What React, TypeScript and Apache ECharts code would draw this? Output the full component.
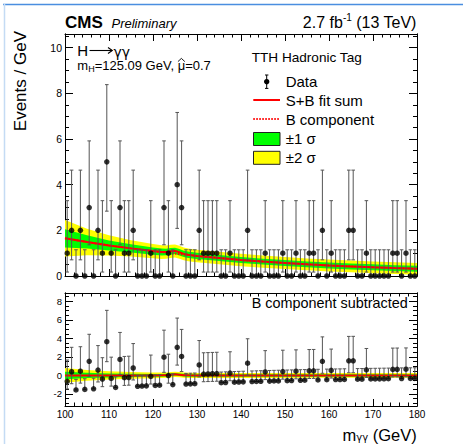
import React, { useEffect, useRef } from "react";
import * as echarts from "echarts";

const FONT = "'Liberation Sans', Arial, Helvetica, sans-serif";
const GREEK = "'DejaVu Sans', 'Liberation Sans', sans-serif";

// ---------------- data ----------------
const massMin = 100;
const massMax = 180;
const binWidth = 1;
// events per 1 GeV bin, 100-180 GeV
const counts = [
  1, 2, 0, 2, 0, 3, 0, 2, 1, 5,
  1, 0, 3, 1, 1, 2, 0, 0, 0, 1,
  0, 0, 3, 1, 0, 4, 3, 0, 0, 0,
  2, 1, 1, 1, 1, 0, 0, 1, 0, 0,
  0, 2, 0, 0, 0, 1, 0, 0, 0, 1,
  0, 0, 1, 0, 0, 1, 1, 0, 2, 0,
  1, 0, 0, 0, 2, 2, 0, 0, 1, 0,
  0, 0, 0, 0, 1, 1, 0, 1, 0, 0,
];
// 68% Poisson intervals for n = 0..5 (lower / upper edges)
const poissonLo = [0, 0.173, 0.708, 1.367, 2.086, 2.84];
const poissonHi = [1.148, 3.3, 4.638, 5.918, 7.163, 8.382];

// fit curves
const fitMass = [100, 105, 110, 115, 120, 122, 123, 124, 125, 126, 127, 128, 130, 135, 140, 145, 150, 155, 160, 165, 170, 175, 180];
const fitB = [1.65, 1.49, 1.34, 1.21, 1.09, 1.04, 1.02, 1.0, 0.98, 0.96, 0.94, 0.92, 0.88, 0.79, 0.7, 0.63, 0.57, 0.51, 0.46, 0.42, 0.38, 0.345, 0.315];
const fitS = [0, 0, 0, 0, 0, 0.01, 0.03, 0.08, 0.12, 0.08, 0.03, 0.01, 0, 0, 0, 0, 0, 0, 0, 0, 0, 0, 0];
const band1 = [0.4, 0.29, 0.22, 0.18, 0.155, 0.15, 0.145, 0.145, 0.14, 0.14, 0.14, 0.14, 0.14, 0.135, 0.135, 0.13, 0.13, 0.13, 0.13, 0.13, 0.13, 0.13, 0.13];
const band2 = [0.8, 0.58, 0.44, 0.36, 0.31, 0.3, 0.29, 0.29, 0.285, 0.28, 0.28, 0.28, 0.275, 0.27, 0.27, 0.265, 0.265, 0.26, 0.26, 0.26, 0.26, 0.255, 0.255];

// axes
const yTicksTop = [0, 2, 4, 6, 8, 10];
const yTicksBottom = [-2, 0, 2, 4, 6, 8];
const topRange = [0, 10.6];
const bottomRange = [-3.3, 8.9];

// ---------------- helpers ----------------
function interp(xs: number[], ys: number[], x: number) {
  for (let i = 0; i < xs.length - 1; i++) {
    if (x >= xs[i] && x <= xs[i + 1]) {
      const t = (x - xs[i]) / (xs[i + 1] - xs[i]);
      return ys[i] + t * (ys[i + 1] - ys[i]);
    }
  }
  return ys[ys.length - 1];
}

function minorList(lo: number, hi: number, step: number, majors: number[]) {
  const out: number[] = [];
  for (let v = Math.ceil(lo / step) * step; v <= hi + 1e-9; v += step) {
    const r = Math.round(v * 1000) / 1000;
    if (!majors.includes(r)) out.push(r);
  }
  return out;
}

let _ctx: CanvasRenderingContext2D | null = null;
function tw(t: string, size: number, weight = "normal", style = "normal", family = FONT) {
  if (!_ctx) _ctx = document.createElement("canvas").getContext("2d");
  if (!_ctx) return t.length * size * 0.55;
  _ctx.font = `${style} ${weight} ${size}px ${family}`;
  return _ctx.measureText(t).width;
}

type Piece = { t: string; size: number; dy?: number; weight?: string; style?: string; family?: string };
function pieces(x: number, y: number, ps: Piece[], align: "left" | "right" = "left") {
  const widths = ps.map((p) => tw(p.t, p.size, p.weight, p.style, p.family || FONT));
  const total = widths.reduce((a, b) => a + b, 0);
  let cx = align === "right" ? x - total : x;
  const els: any[] = [];
  const starts: number[] = [];
  ps.forEach((p, i) => {
    starts.push(cx);
    els.push({
      type: "text",
      x: cx,
      y: y + (p.dy || 0),
      style: {
        text: p.t,
        fontSize: p.size,
        fontFamily: p.family || FONT,
        fontWeight: p.weight || "normal",
        fontStyle: p.style || "normal",
        fill: "#000",
        align: "left",
        verticalAlign: "middle",
      },
    });
    cx += widths[i];
  });
  return { els, starts, widths };
}

const binCenters = counts.map((_, i) => massMin + (i + 0.5) * binWidth);
const bAtBin = binCenters.map((m) => interp(fitMass, fitB, m));

const upperPoints = binCenters.map((m, i) => [m, counts[i]]);
const upperErr = binCenters.map((m, i) => [m, poissonLo[counts[i]], poissonHi[counts[i]]]);
const lowerPoints = binCenters.map((m, i) => [m, counts[i] - bAtBin[i]]);
const lowerErr = binCenters.map((m, i) => [m, poissonLo[counts[i]] - bAtBin[i], poissonHi[counts[i]] - bAtBin[i]]);
const sbLine = fitMass.map((m, i) => [m, fitB[i] + fitS[i]]);
const bLine = fitMass.map((m, i) => [m, fitB[i]]);
const sLine = fitMass.map((m, i) => [m, fitS[i]]);
const sbCenter = fitMass.map((_, i) => fitB[i] + fitS[i]);

const RED = "#ff0000";
const GREEN = "#00ff00";
const YELLOW = "#ffff00";
const ERR = "#555555";

function bandSeries(xi: number, yi: number, center: number[], half: number[], color: string, z: number) {
  return {
    type: "custom",
    xAxisIndex: xi,
    yAxisIndex: yi,
    silent: true,
    clip: true,
    z,
    data: [[fitMass[0], center[0]]],
    renderItem: (_p: any, api: any) => {
      const pts: number[][] = [];
      for (let i = 0; i < fitMass.length; i++) pts.push(api.coord([fitMass[i], center[i] + half[i]]));
      for (let i = fitMass.length - 1; i >= 0; i--) pts.push(api.coord([fitMass[i], center[i] - half[i]]));
      return { type: "polygon", shape: { points: pts }, style: { fill: color } };
    },
  };
}

function errSeries(xi: number, yi: number, data: number[][]) {
  return {
    type: "custom",
    xAxisIndex: xi,
    yAxisIndex: yi,
    silent: true,
    clip: false,
    z: 5,
    data,
    renderItem: (_p: any, api: any) => {
      const x = api.value(0);
      const a = api.coord([x, api.value(1)]);
      const b = api.coord([x, api.value(2)]);
      const st = { stroke: ERR, lineWidth: 1 };
      const c = 1.8;
      return {
        type: "group",
        children: [
          { type: "line", shape: { x1: a[0], y1: a[1], x2: b[0], y2: b[1] }, style: st },
          { type: "line", shape: { x1: a[0] - c, y1: a[1], x2: a[0] + c, y2: a[1] }, style: st },
          { type: "line", shape: { x1: b[0] - c, y1: b[1], x2: b[0] + c, y2: b[1] }, style: st },
        ],
      };
    },
  };
}

function pointSeries(xi: number, yi: number, data: number[][]) {
  return {
    type: "scatter",
    xAxisIndex: xi,
    yAxisIndex: yi,
    silent: true,
    clip: false,
    z: 6,
    symbol: "circle",
    symbolSize: 5.5,
    itemStyle: { color: "#000" },
    data,
  };
}

const AX_LINE = { show: true, onZero: false, lineStyle: { color: "#000", width: 1 } };

function xAx(gridIndex: number, position: string, label: boolean, majorLen: number, minorLen: number) {
  return {
    type: "value",
    gridIndex,
    position,
    min: massMin,
    max: massMax,
    interval: 10,
    axisLine: AX_LINE,
    axisTick: { show: true, inside: true, length: majorLen, lineStyle: { color: "#000", width: 1 } },
    minorTick: { show: true, splitNumber: 5, length: minorLen, lineStyle: { color: "#000", width: 1 } },
    axisLabel: label
      ? { show: true, fontSize: 10, color: "#000", fontFamily: FONT, margin: 3 }
      : { show: false },
    splitLine: { show: false },
    minorSplitLine: { show: false },
  };
}

function yAx(gridIndex: number, position: string, range: number[], ticks: number[], len: number, label: boolean, labelSize: number) {
  return {
    type: "value",
    gridIndex,
    position,
    min: range[0],
    max: range[1],
    axisLine: AX_LINE,
    axisTick: { show: true, inside: true, length: len, customValues: ticks, lineStyle: { color: "#000", width: 1 } },
    axisLabel: label
      ? { show: true, customValues: ticks, fontSize: labelSize, color: "#000", fontFamily: FONT, margin: 3 }
      : { show: false },
    splitLine: { show: false },
    minorTick: { show: false },
  };
}

function buildGraphic() {
  const g: any[] = [];
  // page frame lines
  g.push({ type: "line", shape: { x1: 3, y1: 4.5, x2: 463, y2: 4.5 }, style: { stroke: "#4a8ee0", lineWidth: 1.5 } });
  g.push({ type: "line", shape: { x1: 4.5, y1: 4, x2: 4.5, y2: 444 }, style: { stroke: "#c4dbf4", lineWidth: 1.5 } });

  // header
  g.push(...pieces(65, 22.7, [{ t: "CMS", size: 17, weight: "bold" }]).els);
  g.push(...pieces(111.5, 23.6, [{ t: "Preliminary", size: 13, style: "italic" }]).els);
  g.push(
    ...pieces(
      416.7,
      22.7,
      [
        { t: "2.7 fb", size: 16 },
        { t: "-1", size: 10, dy: -5.5 },
        { t: " (13 TeV)", size: 16 },
      ],
      "right"
    ).els
  );

  // channel labels: H -> gamma gamma
  g.push(...pieces(77.3, 50, [{ t: "H", size: 15 }]).els);
  const ay = 50.5;
  g.push({ type: "line", shape: { x1: 89.5, y1: ay, x2: 112, y2: ay }, style: { stroke: "#000", lineWidth: 1.1 } });
  g.push({
    type: "polyline",
    shape: { points: [[108, ay - 3], [112.3, ay], [108, ay + 3]] },
    style: { stroke: "#000", lineWidth: 1.1, fill: null },
  });
  g.push(...pieces(113.5, 51.5, [{ t: "γγ", size: 14, family: GREEK }]).els);

  const mh = pieces(77.3, 65.5, [
    { t: "m", size: 13 },
    { t: "H", size: 9, dy: 3.5 },
    { t: "=125.09 GeV, ", size: 13 },
    { t: "μ", size: 13 },
    { t: "=0.7", size: 13 },
  ]);
  g.push(...mh.els);
  const mx = mh.starts[3];
  const mw = mh.widths[3];
  g.push({
    type: "polyline",
    shape: { points: [[mx + 0.3, 61.6], [mx + mw / 2, 58.4], [mx + mw - 0.3, 61.6]] },
    style: { stroke: "#000", lineWidth: 0.9, fill: null },
  });

  g.push(...pieces(251.7, 57.7, [{ t: "TTH Hadronic Tag", size: 13.6 }]).els);

  // legend
  const lx = 285.7;
  g.push({ type: "line", shape: { x1: 266.7, y1: 75, x2: 266.7, y2: 88.4 }, style: { stroke: "#000", lineWidth: 1 } });
  g.push({ type: "line", shape: { x1: 265, y1: 75, x2: 268.4, y2: 75 }, style: { stroke: "#000", lineWidth: 1 } });
  g.push({ type: "line", shape: { x1: 265, y1: 88.4, x2: 268.4, y2: 88.4 }, style: { stroke: "#000", lineWidth: 1 } });
  g.push({ type: "circle", shape: { cx: 266.7, cy: 81.7, r: 2.7 }, style: { fill: "#000" } });
  g.push(...pieces(lx, 81.7, [{ t: "Data", size: 15 }]).els);
  g.push({ type: "line", shape: { x1: 253.3, y1: 100, x2: 280, y2: 100 }, style: { stroke: RED, lineWidth: 2 } });
  g.push(...pieces(lx, 100.3, [{ t: "S+B fit sum", size: 15 }]).els);
  g.push({ type: "line", shape: { x1: 253.3, y1: 119, x2: 280, y2: 119 }, style: { stroke: RED, lineWidth: 2, lineDash: [1.5, 1.5] } });
  g.push(...pieces(lx, 119, [{ t: "B component", size: 15 }]).els);
  g.push({ type: "rect", shape: { x: 253.5, y: 132.5, width: 26.5, height: 13 }, style: { fill: GREEN, stroke: "#222", lineWidth: 1 } });
  g.push(...pieces(lx, 138.5, [{ t: "±1 σ", size: 15 }]).els);
  g.push({ type: "rect", shape: { x: 253.5, y: 151.3, width: 26.5, height: 13 }, style: { fill: YELLOW, stroke: "#222", lineWidth: 1 } });
  g.push(...pieces(lx, 157.3, [{ t: "±2 σ", size: 15 }]).els);

  // lower panel label
  g.push(...pieces(251.7, 302.7, [{ t: "B component subtracted", size: 14.4 }]).els);

  // axis titles
  g.push(
    ...pieces(
      416.7,
      434.8,
      [
        { t: "m", size: 16.5 },
        { t: "γγ", size: 10, dy: 3, family: GREEK },
        { t: " (GeV)", size: 16.5 },
      ],
      "right"
    ).els
  );
  g.push({
    type: "text",
    x: 20,
    y: 31,
    rotation: Math.PI / 2,
    style: {
      text: "Events / GeV",
      fontSize: 17,
      fontFamily: FONT,
      fill: "#000",
      align: "right",
      verticalAlign: "middle",
    },
  });
  return g;
}

export default function App() {
  const ref = useRef<HTMLDivElement>(null);
  useEffect(() => {
    if (!ref.current) return;
    const chart = echarts.init(ref.current, undefined, { renderer: "svg" });
    const option: any = {
      animation: false,
      backgroundColor: "#ffffff",
      grid: [
        { left: 65, top: 34, width: 352, height: 242, containLabel: false, outerBoundsMode: "none" },
        { left: 65, top: 293, width: 352, height: 113, containLabel: false, outerBoundsMode: "none" },
      ],
      xAxis: [
        xAx(0, "bottom", false, 7, 3.5),
        xAx(0, "top", false, 7, 3.5),
        xAx(1, "bottom", true, 7, 3.5),
        xAx(1, "top", false, 7, 3.5),
      ],
      yAxis: [
        yAx(0, "left", topRange, yTicksTop, 8, true, 10.5),
        yAx(0, "left", topRange, minorList(topRange[0], topRange[1], 0.5, yTicksTop), 4, false, 10),
        yAx(0, "right", topRange, yTicksTop, 8, false, 10),
        yAx(0, "right", topRange, minorList(topRange[0], topRange[1], 0.5, yTicksTop), 4, false, 10),
        yAx(1, "left", bottomRange, yTicksBottom, 8, true, 9.5),
        yAx(1, "left", bottomRange, minorList(bottomRange[0], bottomRange[1], 0.5, yTicksBottom), 4, false, 10),
        yAx(1, "right", bottomRange, yTicksBottom, 8, false, 10),
        yAx(1, "right", bottomRange, minorList(bottomRange[0], bottomRange[1], 0.5, yTicksBottom), 4, false, 10),
      ],
      series: [
        bandSeries(0, 0, sbCenter, band2, YELLOW, 1),
        bandSeries(0, 0, sbCenter, band1, GREEN, 2),
        {
          type: "line",
          xAxisIndex: 0,
          yAxisIndex: 0,
          data: bLine,
          showSymbol: false,
          silent: true,
          z: 3,
          lineStyle: { color: RED, width: 2, type: [1.5, 1.5] },
        },
        {
          type: "line",
          xAxisIndex: 0,
          yAxisIndex: 0,
          data: sbLine,
          showSymbol: false,
          silent: true,
          z: 4,
          lineStyle: { color: RED, width: 2 },
        },
        errSeries(0, 0, upperErr),
        pointSeries(0, 0, upperPoints),

        bandSeries(2, 4, fitS, band2, YELLOW, 1),
        bandSeries(2, 4, fitS, band1, GREEN, 2),
        {
          type: "line",
          xAxisIndex: 2,
          yAxisIndex: 4,
          data: sLine,
          showSymbol: false,
          silent: true,
          z: 4,
          lineStyle: { color: RED, width: 2 },
        },
        errSeries(2, 4, lowerErr),
        pointSeries(2, 4, lowerPoints),
      ],
      graphic: buildGraphic(),
    };
    chart.setOption(option);
    return () => chart.dispose();
  }, []);
  return (
    <div
      ref={ref}
      style={{ position: "absolute", left: 0, top: 0, width: 463, height: 444 }}
    />
  );
}
